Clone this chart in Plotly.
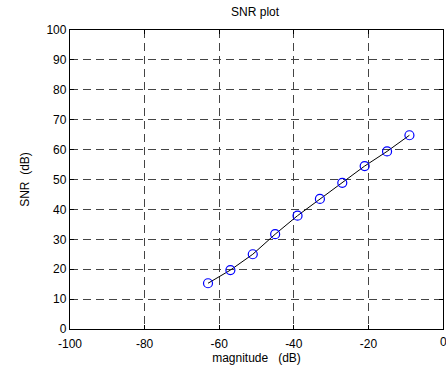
import plotly.graph_objects as go

magnitude_db = [-63, -57, -51, -45, -39, -33, -27, -21, -15, -9]
snr_db = [15.3, 19.7, 25.0, 31.7, 37.9, 43.5, 48.9, 54.5, 59.4, 64.8]
x_ticks = [-100, -80, -60, -40, -20, 0]
y_ticks = [0, 10, 20, 30, 40, 50, 60, 70, 80, 90, 100]

font = "Liberation Sans, Arial, sans-serif"
fs = 12

fig = go.Figure()
fig.add_trace(go.Scatter(
    x=magnitude_db, y=snr_db, mode="lines",
    line=dict(color="black", width=1), showlegend=False, hoverinfo="skip"))
fig.add_trace(go.Scatter(
    x=magnitude_db, y=snr_db, mode="markers",
    marker=dict(symbol="circle-open", size=9, color="blue", line=dict(width=1.2, color="blue")),
    showlegend=False))

axis_common = dict(
    showline=True, linecolor="black", linewidth=1.3, mirror="ticks",
    ticks="inside", ticklen=4, tickcolor="black", tickwidth=1,
    showgrid=True, gridcolor="#444444", gridwidth=1, griddash="8px,5px",
    zeroline=False, tickfont=dict(family=font, size=fs, color="black"),
)

# The rightmost "0" tick label is cut by the page edge in the reference
fig.add_annotation(x=0, y=0, xref="x", yref="y", text=str(x_ticks[-1]), showarrow=False,
                   yanchor="top", yshift=-4, font=dict(family=font, size=fs, color="black"))

fig.update_layout(
    width=446, height=365,
    margin=dict(l=70, r=3, t=30, b=36),
    paper_bgcolor="white", plot_bgcolor="white",
    title=dict(text="SNR plot", x=0.572, xanchor="center", y=(365 - 12) / 365, yanchor="middle",
               font=dict(family=font, size=fs, color="black")),
    xaxis=dict(range=[-100, 0], tickvals=x_ticks, ticktext=[str(v) for v in x_ticks],
               ticklabelstandoff=3,
               title=dict(text="magnitude   (dB)", standoff=0, font=dict(family=font, size=fs, color="black")),
               **axis_common),
    yaxis=dict(range=[0, 100], tickvals=y_ticks, ticktext=[str(v) for v in y_ticks],
               title=dict(text="SNR  (dB)", standoff=14, font=dict(family=font, size=fs, color="black")),
               **axis_common),
)

fig.write_html("out.html")
